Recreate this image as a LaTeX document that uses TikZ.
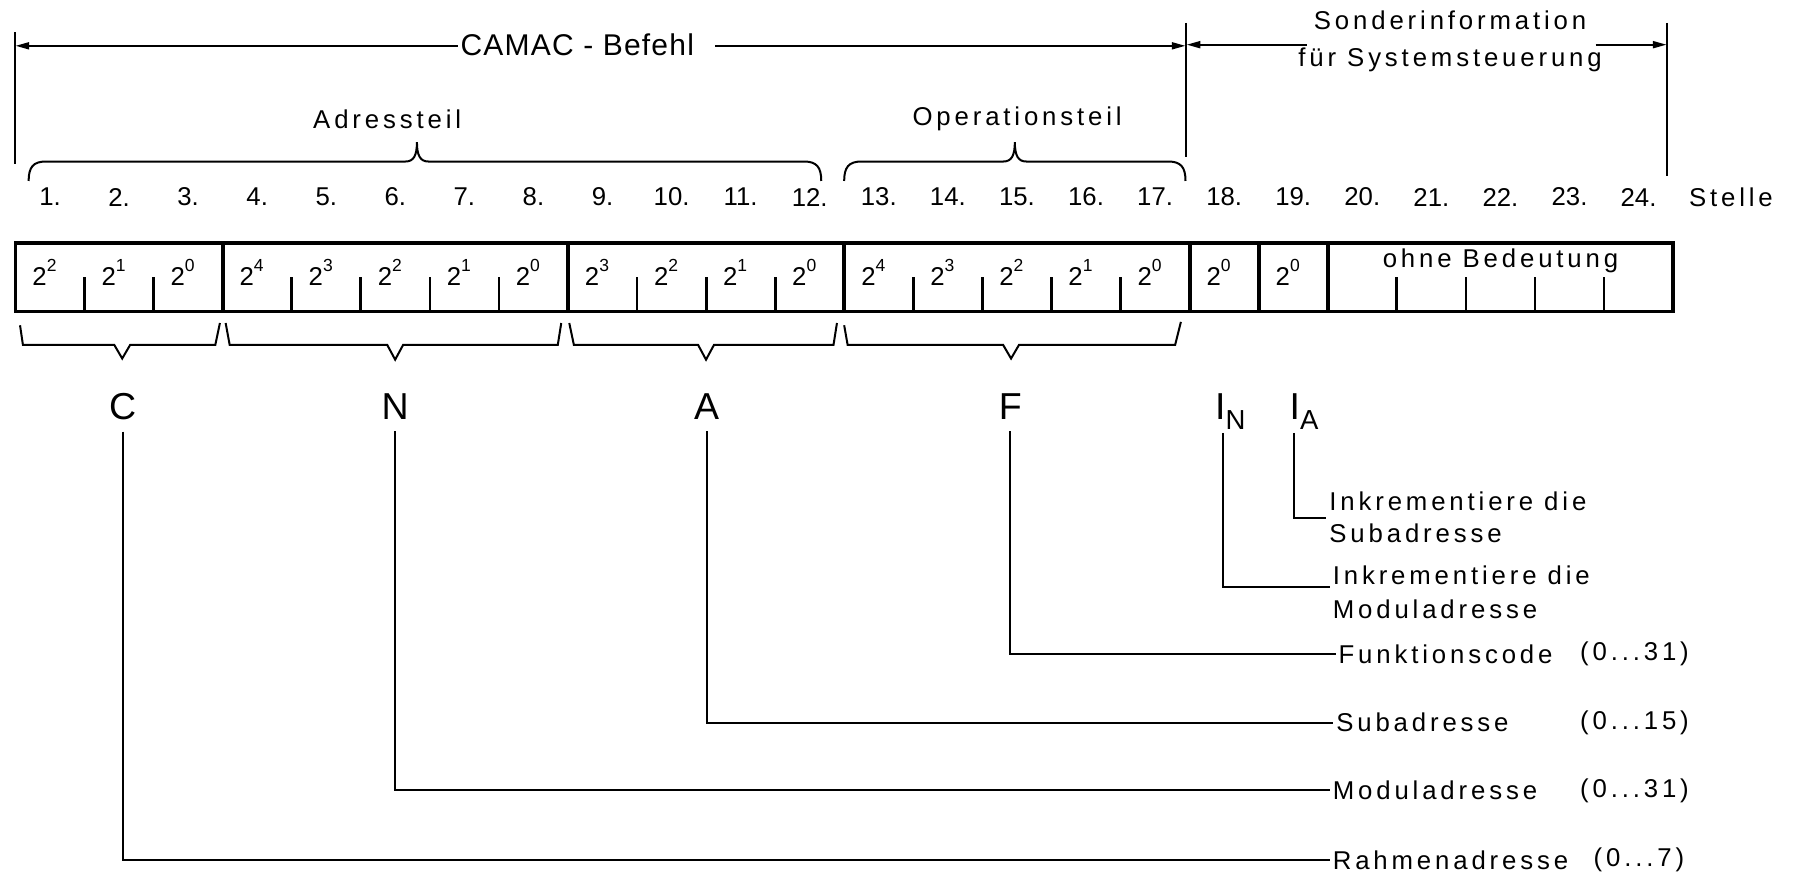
\documentclass[tikz,border=0pt]{standalone}
\usepackage{fontspec}
\setmainfont{Liberation Sans}[LetterSpace=15]
\newfontfamily\numfont{Liberation Sans}
\usetikzlibrary{arrows.meta,calc}
\newcommand{\pw}[1]{{\numfont 2\raisebox{5.5pt}{\fontsize{7}{8}\selectfont #1}}}
\begin{document}
\begin{tikzpicture}[x=0.458pt,y=-0.458pt,
  ln/.style={line width=0.8pt},
  boxln/.style={line width=1.5pt},
  tickln/.style={line width=1.1pt},
  arr/.style={ln,-{Triangle[length=5.5pt,width=2.8pt]}},
  lbl/.style={font=\fontsize{10.3}{12.8}\selectfont, inner sep=1pt},
  num/.style={font=\numfont\fontsize{10.3}{12}\selectfont, inner sep=0pt},
  big/.style={font=\fontsize{15}{18}\selectfont, inner sep=4.5pt},
  bigi/.style={font=\fontsize{15}{18}\selectfont, inner sep=0pt, anchor=base west}
]
\useasboundingbox (0,0) rectangle (1568,767);

% ---- top dimension lines
\draw[ln] (13.5,28) -- (13.5,143);
\draw[ln] (1035,20) -- (1035,137);
\draw[ln] (1455,20) -- (1455,154);
\node[font=\fontsize{12}{14}\selectfont\addfontfeature{LetterSpace=4}, inner sep=1pt] (camac) at (504,39) {CAMAC - Befehl};
\coordinate (cl) at (13.5,40);
\coordinate (cr) at (1035,40);
\draw[arr] (camac.west |- cl) -- (cl);
\draw[arr] ($(camac.east |- cr)+(16,0)$) -- (cr);
\node[font=\fontsize{10.3}{15}\selectfont, inner sep=1pt, align=center] (sonder) at (1266,36) {Sonderinformation\\für Systemsteuerung};
\coordinate (sl) at (1036,39);
\coordinate (sr) at (1455,39);
\draw[arr] ($(sonder.west |- sl)+(10,0)$) -- (sl);
\draw[arr] ($(sonder.east |- sr)+(-8,0)$) -- (sr);

% ---- top braces
\node[lbl] (adr) at (338,104) {Adressteil};
\node[lbl] (op) at (888,104) {Operationsteil};
\draw[ln] (25,158) .. controls (25,146) and (29,141) .. (40,141) -- (354,141)
  .. controls (361,141) and (364,136) .. (364,124)
  .. controls (364,136) and (367,141) .. (374,141) -- (702,141)
  .. controls (713,141) and (717,146) .. (717,158);
\draw[ln] (737,158) .. controls (737,146) and (741,141) .. (752,141) -- (876,141)
  .. controls (883,141) and (886,136) .. (886,124)
  .. controls (886,136) and (889,141) .. (896,141) -- (1020,141)
  .. controls (1031,141) and (1035,146) .. (1035,158);

% ---- position numbers
\foreach \k in {1,...,24} {
  \node[num] (n\k) at ({13.5+(\k-0.5)*60.3},172) {\k.};
}
\node[lbl, anchor=west] (stelle) at (1472,172) {Stelle};

% ---- register box
\draw[boxln] (13.5,212) rectangle (1460.7,272);
\foreach \k in {3,8,12,17,18,19} {
  \draw[boxln] ({13.5+\k*60.3},212) -- ++(0,60);
}
\foreach \k in {1,2,4,5,6,7,9,10,11,13,14,15,16,20,21,22,23} {
  \draw[tickln] ({13.5+\k*60.3},272) -- ++(0,-30);
}
\foreach \k/\e in {1/2,2/1,3/0,4/4,5/3,6/2,7/1,8/0,9/3,10/2,11/1,12/0,13/4,14/3,15/2,16/1,17/0,18/0,19/0} {
  \node[num, anchor=base] (c\k) at ({13.5+(\k-1)*60.3+0.42*60.3},249) {\pw{\e}};
}
\node[lbl] (ohne) at (1310,228) {ohne Bedeutung};

% ---- lower braces
\draw[ln] (17.5,284) -- (20,301) -- (99.7,301) -- (106.7,313) -- (113.7,301) -- (188,301) -- (192,282);
\draw[ln] (197,282) -- (200.5,301) -- (338,301) -- (345,314) -- (352,301) -- (487,301) -- (490,282);
\draw[ln] (497,282) -- (501,301) -- (609.4,301) -- (616.4,314) -- (623.4,301) -- (727.7,301) -- (730.7,282);
\draw[ln] (737,284) -- (740,301) -- (875.7,301) -- (882.7,313) -- (889.7,301) -- (1026,301) -- (1031,281);

% ---- field letters
\node[big] (C) at (107,355) {C};
\node[big] (N) at (345,355) {N};
\node[big] (A) at (617,355) {A};
\node[big] (F) at (882,355) {F};
\node[bigi] (IN) at (1060.5,366) {I\raisebox{-4pt}{\fontsize{11}{13}\selectfont N}};
\node[bigi] (IA) at (1125.5,366) {I\raisebox{-4pt}{\fontsize{11}{13}\selectfont A}};
\coordinate (inN) at (1068,378);
\coordinate (inA) at (1130,378);

% ---- explanations
\node[lbl, anchor=west, align=left] (incA) at (1158,452) {Inkrementiere die\\Subadresse};
\node[lbl, anchor=west, align=left, font=\fontsize{10.3}{13.6}\selectfont] (incN) at (1161,517) {Inkrementiere die\\Moduladresse};
\node[lbl, anchor=west] (func) at (1166,571) {Funktionscode};
\node[lbl, anchor=east] (funcr) at (1477,571) {(0...31)};
\node[lbl, anchor=west] (suba) at (1164,631) {Subadresse};
\node[lbl, anchor=east] (subar) at (1477,631) {(0...15)};
\node[lbl, anchor=west] (modul) at (1161,690) {Moduladresse};
\node[lbl, anchor=east] (modulr) at (1477,690) {(0...31)};
\node[lbl, anchor=west] (rahmen) at (1161,751) {Rahmenadresse};
\node[lbl, anchor=east] (rahmenr) at (1473,751) {(0...7)};

% ---- connectors
\draw[ln] (C.south) |- (rahmen.west);
\draw[ln] (N.south) |- (modul.west);
\draw[ln] (A.south) |- (suba.west);
\draw[ln] (F.south) |- (func.west);
\draw[ln] (inN) |- ([yshift=2pt]incN.west);
\draw[ln] (inA) |- (incA.west);
\end{tikzpicture}
\end{document}
